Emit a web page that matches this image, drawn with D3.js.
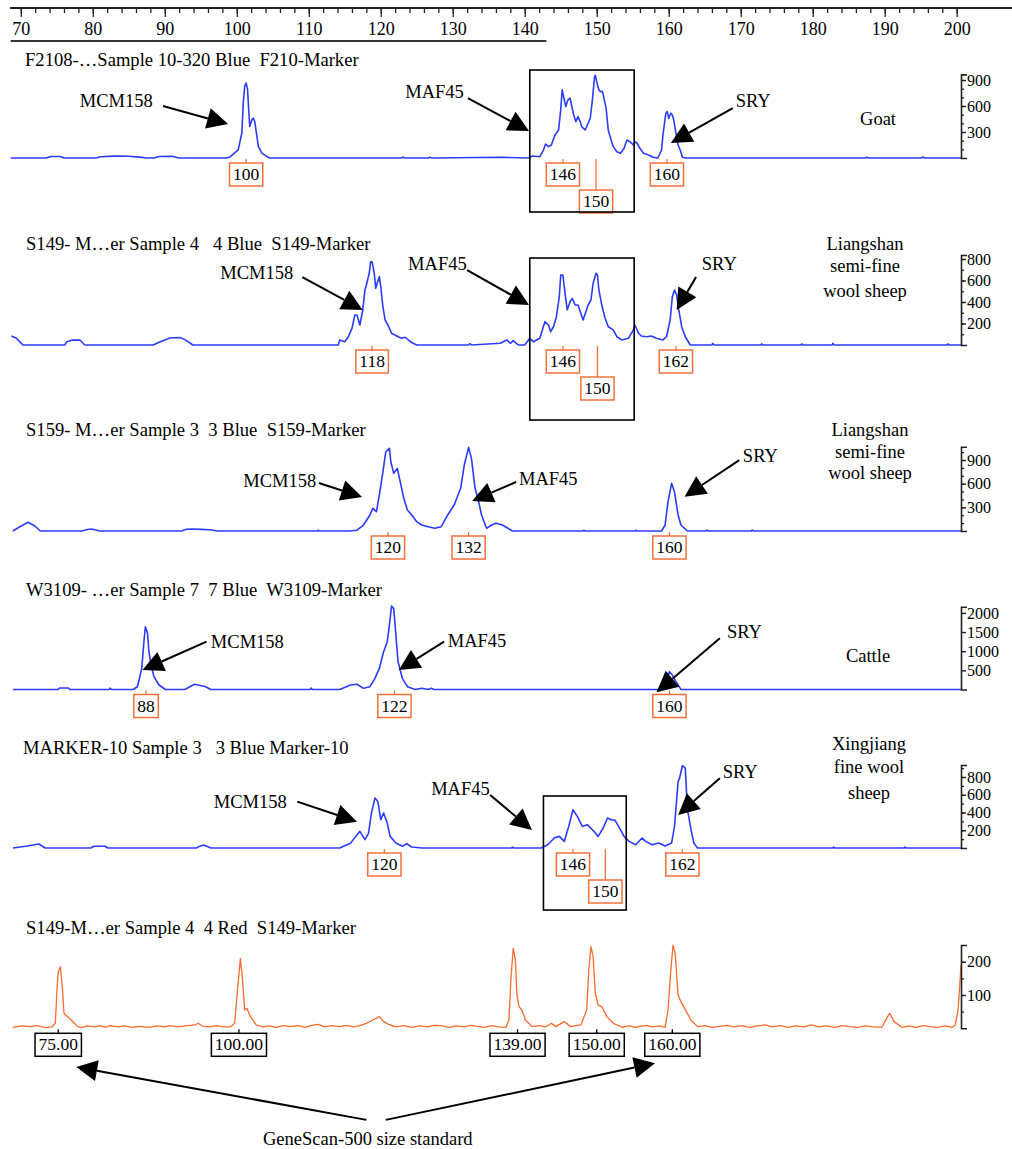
<!DOCTYPE html>
<html>
<head>
<meta charset="utf-8">
<script src="https://cdn.jsdelivr.net/npm/d3@7"></script>
<style>
body { margin: 0; background: #fff; }
text { font-family: "Liberation Serif", "Times New Roman", serif; fill: #000; white-space: pre; }
</style>
</head>
<body>
<svg id="chart" width="1012" height="1149"></svg>
<script>
// size ruler (bp)
var rulerMinor = d3.range(70, 201, 2)
var rulerMajor = d3.range(70, 201, 10)

// sample titles
var titles = ["F2108-\u2026Sample 10-320 Blue  F210-Marker",
              "S149- M\u2026er Sample 4   4 Blue  S149-Marker",
              "S159- M\u2026er Sample 3  3 Blue  S159-Marker",
              "W3109- \u2026er Sample 7  7 Blue  W3109-Marker",
              "MARKER-10 Sample 3   3 Blue Marker-10",
              "S149-M\u2026er Sample 4  4 Red  S149-Marker"]

var species = [["Goat"], ["Liangshan", "semi-fine", "wool sheep"], ["Liangshan", "semi-fine", "wool sheep"],
               ["Cattle"], ["Xingjiang", "fine wool", "sheep"], []]

var markers = ["MCM158", "MAF45", "SRY"]
var sizeStdName = "GeneScan-500 size standard"

// traces: [size in bp, height in rfu]
var goatTrace = [[68.6,0],[73.5,0],[74.2,18],[75.5,18],[76.0,0],[80.5,0],[81.0,15],[83.0,22],[85.0,20],[86.5,10],[87.5,0],[88.5,0],[89.2,18],[91.0,20],[92.0,0],
  [98.6,0],[99.1,15],[100.2,93],[100.7,286],[100.9,634],[101.1,826],[101.3,866],[101.5,788],[101.6,634],[101.8,363],[102.1,440],[102.3,460],[102.5,421],[102.8,247],[103.0,131],[103.5,54],[104.2,15],[104.6,0],
  [122.9,0],[123.1,10],[123.4,0],[126.6,0],[126.8,8],[127.1,0],
  [136.6,8],[140.7,0],[141.0,23],[142.1,15],[142.6,92],[142.9,162],[143.3,131],[143.7,150],[144.2,266],[144.7,324],[145.0,555],[145.2,786],[145.4,709],[145.7,593],[146.0,670],[146.3,690],[146.5,613],[146.8,497],[147.1,420],[147.4,477],[147.7,420],[147.9,362],[148.4,324],[148.7,381],[149.1,459],[149.4,670],[149.7,940],[149.8,955],[150.1,844],[150.3,786],[150.5,766],[150.8,766],[151.0,690],[151.3,575],[151.6,324],[152.0,208],[152.3,131],[152.8,73],[153.3,54],[153.8,112],[154.2,208],[154.6,188],[155.1,150],[155.3,188],[155.6,170],[156.0,112],[156.5,54],[157.2,35],[157.8,8],[158.5,0],
  [159.0,92],[159.2,266],[159.6,517],[159.8,535],[160.0,459],[160.3,517],[160.5,497],[160.7,439],[161.0,286],[161.3,150],[161.6,92],[161.9,8],[162.3,0],
  [187.3,0],[187.5,10],[187.7,0],[195.1,0],[195.3,12],[195.5,0],[200.6,0]]

var liangshanTraceA = [[68.7,84],[69.4,62],[70.3,0],[76.1,0],[76.4,31],[77.1,45],[78.2,47],[78.9,0],[88.4,0],[89.3,28],[90.7,65],[92.1,70],[92.8,50],[93.9,0],
  [114.1,0],[114.3,47],[115.0,30],[115.5,77],[116.0,155],[116.4,279],[116.7,279],[117.1,186],[117.5,325],[117.8,511],[118.0,558],[118.4,667],[118.6,775],[118.8,775],[119.1,667],[119.3,527],[119.5,574],[119.8,636],[120.0,543],[120.3,356],[120.6,233],[121.0,186],[121.5,109],[122.0,93],[122.4,77],[122.9,62],[123.4,72],[124.1,31],[125.0,0],
  [132.2,0],[132.4,12],[132.6,0],[136.6,16],[137.5,47],[138.0,16],[138.4,40],[139.1,0],[140.0,0],[140.7,62],[141.2,31],[142.1,62],[142.8,217],[143.3,186],[143.6,124],[144.0,170],[144.4,263],[144.8,449],[145.0,651],[145.3,651],[145.6,481],[145.9,326],[146.3,403],[146.6,434],[147.0,372],[147.4,372],[147.8,294],[148.1,233],[148.5,310],[148.8,372],[149.2,419],[149.5,574],[149.9,667],[150.1,651],[150.3,512],[150.7,372],[151.1,263],[151.6,170],[152.3,140],[152.8,77],[153.5,47],[154.4,62],[155.1,140],[155.3,186],[155.8,109],[156.2,84],[156.9,77],[157.6,84],[158.3,62],[159.2,47],
  [159.7,77],[160.2,233],[160.5,449],[160.8,512],[161.1,465],[161.4,326],[161.8,170],[162.3,77],[163.0,0],
  [166.0,0],[166.1,15],[166.3,0],[172.8,0],[172.9,10],[173.1,0],[178.4,0],[178.5,10],[178.7,0],[182.7,0],[182.8,15],[183.0,0],[198.7,0],[198.8,10],[199.0,0],[200.6,0]]

var liangshanTraceB = [[68.9,0],[69.8,50],[71.0,110],[72.0,60],[72.7,0],[78.4,0],[79.3,20],[79.8,25],[81.0,0],[92.3,0],[92.9,20],[93.8,25],[95.0,20],[96.3,15],[97.3,0],[111.2,0],[111.3,10],[111.5,0],
  [115.7,0],[116.7,10],[117.6,76],[118.5,203],[118.9,287],[119.4,245],[119.8,456],[120.3,751],[120.7,1005],[121.2,1048],[121.4,878],[121.8,731],[122.3,794],[122.7,625],[123.2,414],[123.7,266],[124.3,203],[125.0,118],[125.7,76],[126.6,55],[127.5,34],
  [128.4,55],[129.3,203],[130.2,329],[131.1,541],[131.6,836],[132.2,1060],[132.6,921],[133.1,541],[133.5,414],[134.0,203],[134.7,34],[135.4,76],[136.0,97],[136.9,76],[138.3,0],
  [148.1,0],[148.2,10],[148.4,0],[155.3,0],[155.4,10],[155.6,0],
  [159.0,0],[159.5,76],[159.9,372],[160.4,604],[160.8,498],[161.3,203],[161.7,76],[162.6,0],[165.2,0],[165.3,12],[165.5,0],[171.5,0],[171.6,12],[171.8,0],[200.6,0]]

var cattleTrace = [[68.9,0],[75.2,0],[75.4,40],[76.6,40],[76.8,0],[82.3,0],[82.4,40],[82.6,0],
  [85.6,0],[86.2,73],[86.8,553],[87.1,1248],[87.3,1639],[87.6,1467],[87.8,987],[88.1,639],[88.5,334],[89.2,117],[90.1,0],[92.8,0],[94.1,136],[95.6,80],[96.4,0],[110.2,0],[110.3,40],[110.5,0],
  [114.3,0],[115.8,117],[116.7,136],[117.6,31],[118.5,73],[119.2,292],[119.8,553],[120.4,987],[120.9,1248],[121.2,1683],[121.5,2180],[121.8,2110],[122.1,1422],[122.4,726],[123.0,292],[123.7,73],[124.8,0],[125.7,31],[126.6,0],[127.0,30],[127.4,0],
  [159.0,0],[159.6,204],[160.1,465],[160.5,378],[161.0,204],[161.7,0],[200.6,0]]

var xingjiangTrace = [[68.9,0],[70.7,20],[72.5,45],[73.4,0],[79.7,0],[80.2,20],[81.7,20],[82.1,0],[94.4,0],[94.6,10],[95.4,34],[96.4,0],
  [114.3,0],[115.8,53],[116.5,128],[117.1,188],[117.8,94],[118.3,165],[118.7,391],[119.2,563],[119.6,525],[120.0,319],[120.4,394],[120.9,282],[121.3,131],[122.1,56],[123.0,19],[123.6,48],[124.3,11],[125.7,0],[138.2,0],[138.3,10],[138.5,0],
  [142.3,0],[143.2,37],[144.1,112],[144.8,131],[145.5,75],[146.1,240],[146.7,432],[147.3,356],[148.0,243],[148.7,263],[149.6,188],[150.2,131],[150.9,225],[151.5,338],[152.1,316],[152.5,316],[153.2,222],[153.8,131],[154.5,75],[155.4,37],[156.3,112],[156.8,75],[157.7,37],[158.6,56],[159.5,22],[160.4,56],
  [160.8,240],[161.3,747],[161.5,785],[161.9,930],[162.3,900],[162.6,432],[163.1,206],[163.5,53],[164.0,0],[182.8,0],[182.9,10],[183.1,0],[192.7,0],[192.8,10],[193.0,0],[200.6,0]]

var sizeStdTrace = [[68.9,3],[70.1,7],[71.3,5],[72.3,8],[73.4,2],[74.3,4],[74.8,15],[75.0,105],[75.2,170],[75.5,185],[75.8,115],[76.0,45],[76.4,37],[77.0,25],[77.9,5],
  [78.5,3],[79.3,7],[80.2,4],[81.0,8],[81.8,3],[82.4,8],[83.5,4],[84.3,7],[85.5,3],[86.6,6],[87.8,3],[88.9,7],[90.0,4],[90.7,8],[91.8,4],[92.9,7],[94.2,10],[94.6,15],[95.3,6],[96.3,4],[97.2,8],[98.2,4],
  [99.1,4],[99.7,15],[100.1,115],[100.4,185],[100.5,210],[100.8,145],[101.1,55],[101.4,60],[101.9,35],[102.7,10],[103.6,4],
  [104.5,7],[105.5,3],[106.4,8],[107.4,5],[108.5,8],[109.5,3],[110.4,9],[111.3,12],[112.2,4],[113.2,8],[114.3,5],[115.2,9],[116.2,4],[117.1,8],
  [118.0,15],[118.9,25],[119.8,35],[120.4,20],[121.1,12],[122.1,4],
  [123.2,8],[124.3,3],[125.4,7],[126.4,4],[127.4,9],[128.4,8],[129.5,3],[130.5,7],[131.5,4],[132.5,9],[133.4,6],[134.4,3],[135.4,8],[136.4,4],
  [137.4,3],[137.8,25],[138.1,155],[138.4,240],[138.7,205],[138.9,105],[139.2,65],[139.6,55],[140.1,25],[141.0,5],[142.0,8],[142.9,4],[143.7,15],[144.3,5],[145.5,20],[146.4,5],[147.1,8],[147.8,10],
  [148.6,55],[148.9,175],[149.2,245],[149.5,215],[149.8,105],[150.2,70],[150.7,65],[151.4,35],[152.3,15],[153.6,3],
  [154.5,8],[155.3,3],[156.0,6],[156.9,9],[157.8,4],[158.7,7],
  [159.5,3],[159.9,55],[160.3,175],[160.6,250],[160.9,225],[161.3,100],[161.7,80],[162.2,60],[163.1,25],[164.0,5],
  [165.0,8],[166.0,3],[167.1,6],[168.1,9],[169.1,4],[170.2,8],[171.3,3],[172.3,7],[173.4,10],[174.4,4],[175.5,8],[176.6,3],[177.6,7],[178.7,4],[179.8,10],[180.8,4],[181.9,7],[183.0,3],[184.1,8],[185.2,5],[186.3,3],[187.3,7],[188.4,4],
  [189.6,3],[190.4,35],[190.7,45],[191.3,20],[192.4,3],
  [193.4,7],[194.3,3],[195.3,8],[196.3,5],[197.3,3],[198.4,7],[199.4,3],[199.8,10],[200.2,55],[200.5,155],[200.6,190]]

// called peak sizes (label text) and where they sit on the size axis
var goatCalls = ["100", "146", "150", "160"]
var goatCallAt = [101.3, 145.3, 149.9, 159.75]
var sheepACalls = ["118", "146", "150", "162"]
var sheepACallAt = [118.8, 145.3, 150.1, 161.0]
var sheepBCalls = ["120", "132", "160"]
var sheepBCallAt = [121.0, 132.2, 160.1]
var cattleCalls = ["88", "122", "160"]
var cattleCallAt = [87.4, 121.9, 160.1]
var xingjiangCalls = ["120", "146", "150", "162"]
var xingjiangCallAt = [120.5, 146.7, 151.2, 161.9]
var sizeStdCalls = ["75.00", "100.00", "139.00", "150.00", "160.00"]
var sizeStdCallAt = [75.2, 100.3, 139.0, 150.0, 160.5]

// colours
var blue = "#2b3cff", orange = "#f4703c", red = "#ff6a2e"
var serif = "'Liberation Serif', 'Times New Roman', serif"

var svg = d3.select("#chart")

// shared size scale
var x = d3.scaleLinear().domain([68.5, 200.6]).range([10, 961])

// size ruler on top
svg.append("line").attr("x1", 10).attr("x2", 1012).attr("y1", 8).attr("y2", 8)
    .attr("stroke", "#222").attr("stroke-width", 2)
svg.append("line").attr("x1", x(68.6)).attr("x2", x(143.0)).attr("y1", 41).attr("y2", 41)
    .attr("stroke", "#333").attr("stroke-width", 2)

var rulerMinorG = svg.append("g").attr("transform", "translate(0,8)")
    .call(d3.axisBottom(x).tickValues(rulerMinor).tickSize(5).tickFormat(""))
rulerMinorG.select(".domain").remove()
var rulerMajorG = svg.append("g").attr("transform", "translate(0,8)")
    .call(d3.axisBottom(x).tickValues(rulerMajor).tickSize(9).tickPadding(5).tickFormat(d3.format("d")))
rulerMajorG.select(".domain").remove()
rulerMajorG.attr("font-family", null)
svg.selectAll(".tick line").attr("stroke", "#222").attr("stroke-width", 1.3)
rulerMajorG.selectAll("text").style("font-family", serif).style("font-size", "18px")

// panel layout (pixel placement of each panel and its texts)
var panels = [
  {trace: goatTrace, color: blue, base: 158, refVal: 900, refPx: 80, axisTop: 965, major: [300, 600, 900], minor: 100,
   title: [25, 66], speciesX: 878, speciesY: [121],
   calls: goatCalls, callAt: goatCallAt, longCall: "150", callColor: orange,
   notes: [{tx: 78.2, th: 588, from: [89.75, 600], to: [98.8, 392]},
           {tx: 123.4, th: 692, from: [132.1, 692], to: [140.6, 311]},
           {tx: 169.3, th: 588, from: [168.9, 576], to: [160.3, 173]}],
   box: [140.7, 155.2, 1015, -623]},
  {trace: liangshanTraceA, color: blue, base: 345, refVal: 800, refPx: 259, axisTop: 837, major: [200, 400, 600, 800], minor: 100,
   title: [26, 250], speciesX: 865, speciesY: [246, 268, 293],
   calls: sheepACalls, callAt: sheepACallAt, longCall: "150", callColor: orange,
   notes: [{tx: 97.7, th: 614, from: [109.1, 632], to: [117.5, 326]},
           {tx: 123.8, th: 697, from: [132.0, 697], to: [140.6, 372]},
           {tx: 164.6, th: 697, from: [163.8, 632], to: [161.1, 326]}],
   box: [140.7, 155.2, 809, -698]},
  {trace: liangshanTraceB, color: blue, base: 531, refVal: 900, refPx: 460, axisTop: 1068, major: [300, 600, 900], minor: 100,
   title: [26, 436], speciesX: 870, speciesY: [432, 454, 475],
   calls: sheepBCalls, callAt: sheepBCallAt, longCall: null, callColor: orange,
   notes: [{tx: 100.9, th: 557, from: [111.4, 608], to: [117.4, 431]},
           {tx: 139.2, th: 583, from: [138.8, 621], to: [132.7, 380]},
           {tx: 170.3, th: 874, from: [169.8, 899], to: [162.2, 435]}],
   box: null},
  {trace: cattleTrace, color: blue, base: 689.5, refVal: 2000, refPx: 612.9, axisTop: 2160, major: [500, 1000, 1500, 2000], minor: null,
   title: [26, 596], speciesX: 868, speciesY: [658],
   calls: cattleCalls, callAt: cattleCallAt, longCall: null, callColor: orange,
   notes: [{tx: 96.4, th: 1083, from: [95.8, 1248], to: [86.9, 509]},
           {tx: 129.3, th: 1109, from: [128.8, 1248], to: [122.5, 509]},
           {tx: 168.1, th: 1344, from: [167.1, 1336], to: [158.3, -73]}],
   box: null},
  {trace: xingjiangTrace, color: blue, base: 848, refVal: 800, refPx: 777, axisTop: 935, major: [200, 400, 600, 800], minor: 100,
   title: [23, 754], speciesX: 869, speciesY: [746, 769, 795],
   calls: xingjiangCalls, callAt: xingjiangCallAt, longCall: "150", callColor: orange,
   notes: [{tx: 96.8, th: 451, from: [108.4, 522], to: [116.7, 296]},
           {tx: 127.0, th: 597, from: [135.2, 597], to: [141.0, 203]},
           {tx: 167.5, th: 789, from: [167.1, 786], to: [161.3, 372]}],
   box: [142.6, 154.1, 586, -699]},
  {trace: sizeStdTrace, color: red, base: 1028.3, refVal: 200, refPx: 961.7, axisTop: 250, major: [100, 200], minor: 50,
   title: [26, 934], speciesX: 868, speciesY: [],
   calls: sizeStdCalls, callAt: sizeStdCallAt, longCall: null, callColor: "#000",
   notes: [], box: null}
]

panels.forEach(function(p, i) {
    var y = d3.scaleLinear().domain([0, p.refVal]).range([p.base, p.refPx])
    var g = svg.append("g")

    // sample title
    g.append("text").attr("x", p.title[0]).attr("y", p.title[1])
        .attr("font-size", 18.6).text(titles[i])

    // trace
    g.append("path").datum(p.trace)
        .attr("fill", "none").attr("stroke", p.color).attr("stroke-width", p.color === red ? 1.3 : 1.6)
        .attr("stroke-linejoin", "round")
        .attr("d", d3.line().x(function(d) { return x(d[0]) }).y(function(d) { return y(d[1]) }))

    // rfu axis on the right
    var yAxis = d3.scaleLinear().domain([0, p.axisTop]).range([y(0), y(p.axisTop)])
    if (p.minor) {
        var minorG = g.append("g").attr("transform", "translate(961,0)")
            .call(d3.axisRight(yAxis).tickValues(d3.range(p.minor, p.axisTop, p.minor)).tickSize(3).tickFormat(""))
        minorG.select(".domain").remove()
        minorG.selectAll("line").attr("stroke", "#222").attr("stroke-width", 1.3)
    }
    var axisG = g.append("g").attr("transform", "translate(961,0)")
        .call(d3.axisRight(yAxis).tickValues(p.major).tickSize(5).tickSizeOuter(6).tickPadding(1).tickFormat(d3.format("d")))
    axisG.attr("font-family", null)
    axisG.select(".domain").attr("stroke", "#222").attr("stroke-width", 1.6)
    axisG.selectAll("line").attr("stroke", "#222").attr("stroke-width", 1.4)
    axisG.selectAll("text").style("font-family", serif).style("font-size", "16px").attr("fill", "#000")

    // species name
    species[i].forEach(function(s, k) {
        g.append("text").attr("x", p.speciesX).attr("y", p.speciesY[k])
            .attr("text-anchor", "middle").attr("dominant-baseline", "middle")
            .attr("font-size", 18.5).text(s)
    })

    // MAF45 frame
    if (p.box) {
        g.append("rect")
            .attr("x", x(p.box[0])).attr("y", y(p.box[2]))
            .attr("width", x(p.box[1]) - x(p.box[0])).attr("height", y(p.box[3]) - y(p.box[2]))
            .attr("fill", "none").attr("stroke", "#000").attr("stroke-width", 1.6)
    }

    // peak calls
    p.calls.forEach(function(c, k) {
        var cx = x(p.callAt[k])
        var top = p.base + (c === p.longCall ? 32 : 5)
        g.append("line").attr("x1", cx).attr("x2", cx).attr("y1", p.base + 1).attr("y2", top)
            .attr("stroke", p.callColor).attr("stroke-width", 1.3)
        var t = g.append("text").attr("x", cx).attr("y", top + 17)
            .attr("text-anchor", "middle").attr("font-size", 17.5).text(c)
        var w = t.node().getComputedTextLength() + 7
        g.insert("rect", "text")
            .attr("x", cx - w / 2).attr("y", top).attr("width", w).attr("height", 23)
            .attr("fill", "#fff").attr("stroke", p.callColor).attr("stroke-width", 1.5)
    })

    // marker annotations
    p.notes.forEach(function(n, k) {
        g.append("text").attr("x", x(n.tx)).attr("y", y(n.th)).attr("font-size", 18.5).text(markers[k])
        drawArrow(g, x(n.from[0]), y(n.from[1]), x(n.to[0]), y(n.to[1]))
    })

    // size standard note under the last panel
    if (i === panels.length - 1) {
        g.append("text").attr("x", x(118.2)).attr("y", y(-350))
            .attr("text-anchor", "middle").attr("font-size", 18.5).text(sizeStdName)
        drawArrow(g, x(118.0), y(-275), x(77.7), y(-116))
        drawArrow(g, x(120.7), y(-275), x(158.1), y(-105))
    }
})

// black arrow with a filled triangular head
function drawArrow(g, x1, y1, x2, y2) {
    var dx = x2 - x1, dy = y2 - y1
    var len = Math.sqrt(dx * dx + dy * dy)
    var ux = dx / len, uy = dy / len
    var hl = 21, hw = 10.5
    var bx = x2 - ux * hl, by = y2 - uy * hl
    g.append("line").attr("x1", x1).attr("y1", y1).attr("x2", bx).attr("y2", by)
        .attr("stroke", "#000").attr("stroke-width", 2)
    g.append("path")
        .attr("d", "M" + x2 + "," + y2 + "L" + (bx - uy * hw) + "," + (by + ux * hw) + "L" + (bx + uy * hw) + "," + (by - ux * hw) + "Z")
        .attr("fill", "#000")
}
</script>
</body>
</html>
